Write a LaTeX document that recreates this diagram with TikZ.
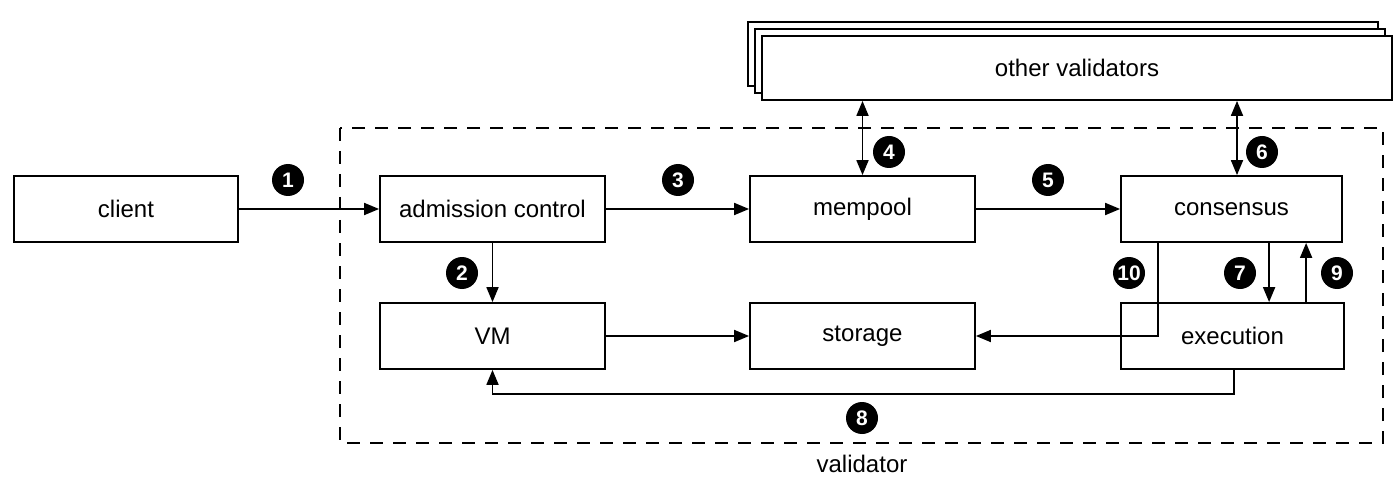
\documentclass[tikz,border=0pt]{standalone}
\usepackage{fontspec}
\setmainfont{Liberation Sans}
\usetikzlibrary{arrows.meta}
\begin{document}
\begin{tikzpicture}[x=1pt,y=-1pt,
  box/.style={draw,line width=1.8pt,fill=white,minimum width=225pt,minimum height=66pt,inner sep=0pt,font=\fontsize{24}{28}\selectfont},
  conn/.style={line width=1.8pt,-{Triangle[length=15pt,width=12pt]}},
  dconn/.style={line width=1.8pt,{Triangle[length=15pt,width=12pt]}-{Triangle[length=15pt,width=12pt]}},
  marker/.style={circle,fill=black,text=white,minimum size=32pt,inner sep=0pt,font=\fontsize{21}{23}\selectfont\bfseries}]
\useasboundingbox (0,0) rectangle (1400,489);
% frame
\draw[line width=1.8pt,dash pattern=on 13pt off 10pt] (340,128) rectangle (1383,443);
\node[font=\fontsize{24}{28}\selectfont] (vlabel) at (862,464) {validator};
% other validators stack
\node[box,minimum width=630pt,minimum height=64pt] (ov3) at (1063,54) {};
\node[box,minimum width=630pt,minimum height=64pt] (ov2) at (1070,61) {};
\node[box,minimum width=630pt,minimum height=64pt] (ov) at (1077,68) {other validators};
% boxes
\node[box,minimum width=224pt] (client) at (126,209) {client};
\node[box] (adm) at (492.5,209) {admission control};
\node[box] (mem) at (862.5,209) {mempool};
\node[box,minimum width=221pt] (cons) at (1231.5,209) {consensus};
\node[box] (vm) at (492.5,336) {VM};
\node[box] (sto) at (862.5,336) {storage};
\node[box,minimum width=223pt] (exe) at (1232.5,336) {execution};
% connectors
\draw[conn] (client) -- (adm);
\draw[conn] (adm) -- (vm);
\draw[conn] (adm) -- (mem);
\draw[dconn] (ov.south -| mem.north) -- (mem.north);
\draw[conn] (mem) -- (cons);
\draw[dconn] ([xshift=5.5pt]ov.south -| cons.north) -- ([xshift=5.5pt]cons.north);
\draw[conn] ([xshift=149pt]cons.south west) -- ([xshift=149pt]cons.south west |- exe.north);
\draw[conn] ([xshift=186pt]exe.north west) -- ([xshift=186pt]exe.north west |- cons.south);
\draw[conn] ([xshift=38pt]cons.south west) |- (sto.east);
\draw[conn] (vm) -- (sto);
\draw[conn] ([xshift=1.5pt]exe.south) -- ++(0,24) -| (vm.south);
% markers
\node[marker] (m1) at (288,180) {1};
\node[marker] (m2) at (462,273) {2};
\node[marker] (m3) at (678,180) {3};
\node[marker] (m4) at (889,152) {4};
\node[marker] (m5) at (1048,180) {5};
\node[marker] (m6) at (1262,152) {6};
\node[marker] (m7) at (1240,273) {7};
\node[marker] (m8) at (862,418) {8};
\node[marker] (m9) at (1337,273) {9};
\node[marker] (m10) at (1129,273) {10};
\end{tikzpicture}
\end{document}
